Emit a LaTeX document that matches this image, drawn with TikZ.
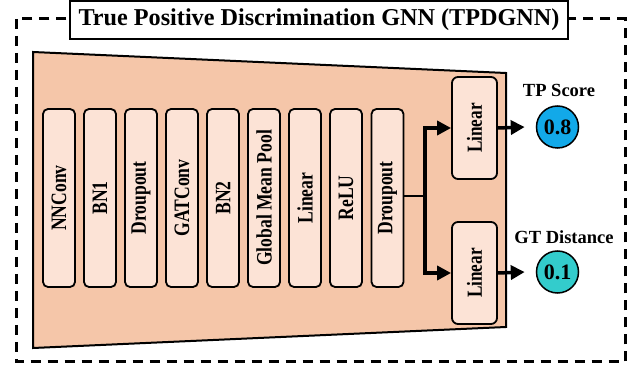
\documentclass[tikz,border=0pt]{standalone}
\usepackage{fontspec}
\setmainfont{Liberation Serif}
\newfontfamily\condserif[FakeStretch=0.8]{Liberation Serif}
\usetikzlibrary{arrows.meta}
\definecolor{peach}{HTML}{F5C6A9}
\definecolor{lightpeach}{HTML}{FCE3D6}
\definecolor{tpblue}{HTML}{12A9E9}
\definecolor{gtteal}{HTML}{33CCCC}
\tikzset{
  layerbox/.style={draw, line width=1.8pt, rounded corners=5pt, fill=lightpeach, rotate=90,
    minimum width=178pt, minimum height=32pt, inner sep=0pt,
    font=\condserif\bfseries\fontsize{22}{24}\selectfont},
  headbox/.style={draw, line width=1.8pt, rounded corners=6pt, fill=lightpeach, rotate=90,
    minimum width=102pt, minimum height=45pt, inner sep=0pt,
    font=\condserif\bfseries\fontsize{21.5}{24}\selectfont},
  outcircle/.style={draw, line width=1.5pt, circle, minimum size=42pt, inner sep=0pt,
    font=\bfseries\fontsize{22}{24}\selectfont},
  outlabel/.style={font=\bfseries\fontsize{18.5}{20}\selectfont, inner sep=0pt},
  arr/.style={line width=3.5pt, -{Triangle[length=14pt,width=14pt]}},
}
\begin{document}
\begin{tikzpicture}[x=1pt,y=-1pt]
\useasboundingbox (0,0) rectangle (641,374);
% outer dashed frame
\draw[line width=3pt, dash pattern=on 10pt off 7pt] (16.7,19) rectangle (625,362);
% title
\node[draw, line width=2.5pt, fill=white, minimum width=498pt, minimum height=38pt, inner sep=0pt,
  font=\bfseries\fontsize{24.2}{26}\selectfont] (title) at (319,20) {True Positive Discrimination GNN (TPDGNN)};
% trapezoid body
\draw[line width=2pt, fill=peach] (33,52) -- (506,73) -- (506,327) -- (33,348) -- cycle;
% layers
\node[layerbox] (nnconv) at (59,198) {NNConv};
\node[layerbox] (bn1) at (100,198) {BN1};
\node[layerbox] (drop1) at (141,198) {Droupout};
\node[layerbox] (gat) at (182,198) {GATConv};
\node[layerbox] (bn2) at (223,198) {BN2};
\node[layerbox] (gmp) at (264,198) {Global Mean Pool};
\node[layerbox] (lin) at (305,198) {Linear};
\node[layerbox] (relu) at (346,198) {ReLU};
\node[layerbox] (drop2) at (387.5,198) {Droupout};
% heads
\node[headbox] (lin1) at (474.5,128) {Linear};
\node[headbox] (lin2) at (474.5,273) {Linear};
% outputs
\node[outcircle, fill=tpblue] (tp) at (557.5,127) {0.8};
\node[outcircle, fill=gtteal] (gt) at (557.5,272) {0.1};
\node[outlabel] (tplab) at (559,90) {TP Score};
\node[outlabel] (gtlab) at (564,237) {GT Distance};
% connectors
\coordinate (j) at (425,196);
\draw[line width=2pt] (drop2.south |- j) -- (j);
\draw[arr] (j) |- (lin1.north);
\draw[arr] (j) |- (lin2.north);
\draw[arr] (lin1.south) -- ([xshift=-11pt]tp.west);
\draw[arr] (lin2.south) -- ([xshift=-11pt]gt.west);
\end{tikzpicture}
\end{document}
